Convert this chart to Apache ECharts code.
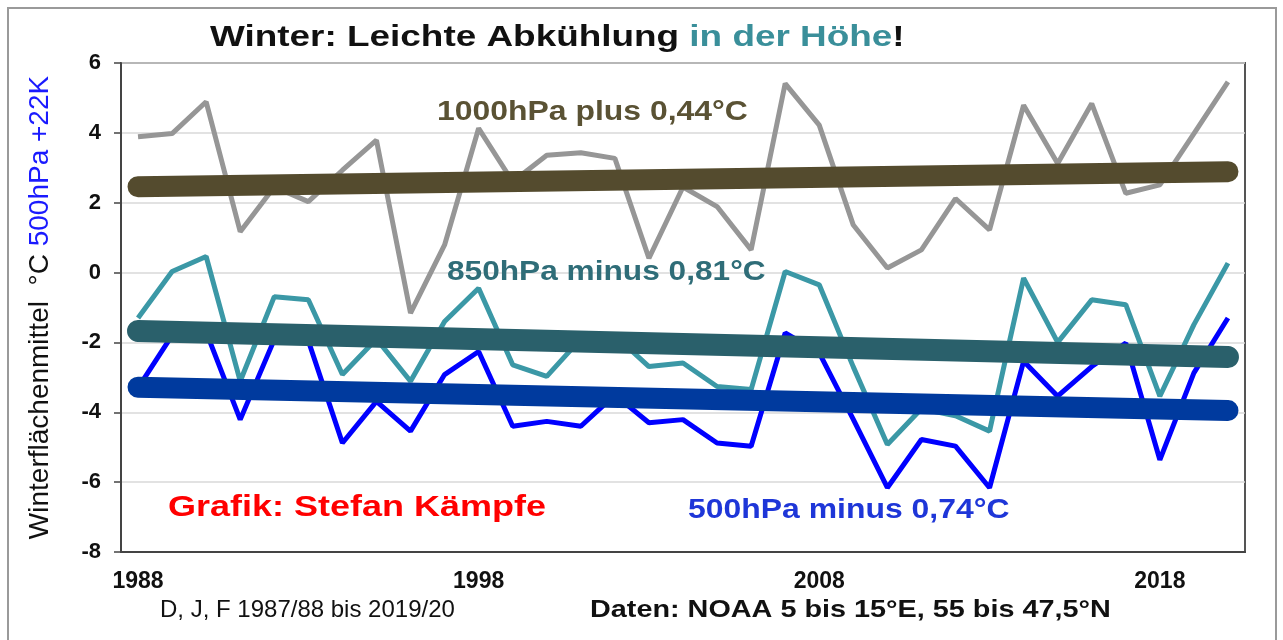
<!DOCTYPE html>
<html>
<head>
<meta charset="utf-8">
<script src="https://cdn.jsdelivr.net/npm/echarts@6/dist/echarts.min.js"></script>
<style>
html,body{margin:0;padding:0;background:#fff;}
#chart{width:1283px;height:640px;}
</style>
</head>
<body>
<div id="chart"></div>
<script>
var years = ['1988','1989','1990','1991','1992','1993','1994','1995','1996','1997','1998','1999','2000','2001','2002','2003','2004','2005','2006','2007','2008','2009','2010','2011','2012','2013','2014','2015','2016','2017','2018','2019','2020'];
var t1000 = [3.89, 3.98, 4.89, 1.17, 2.45, 2.03, 2.93, 3.79, -1.16, 0.79, 4.13, 2.6, 3.36, 3.43, 3.27, 0.41, 2.45, 1.89, 0.65, 5.41, 4.22, 1.36, 0.13, 0.65, 2.12, 1.22, 4.79, 3.12, 4.84, 2.27, 2.51, 3.98, 5.46];
var t850 = [-1.30, 0.03, 0.46, -3.11, -0.69, -0.78, -2.92, -1.9, -3.11, -1.40, -0.45, -2.64, -2.97, -1.9, -1.8, -2.69, -2.59, -3.26, -3.35, 0.03, -0.35, -2.7, -4.92, -3.9, -4.1, -4.54, -0.16, -2.0, -0.78, -0.92, -3.54, -1.49, 0.27];
var t500 = [-3.3, -1.8, -1.7, -4.21, -1.92, -1.95, -4.88, -3.69, -4.54, -2.92, -2.26, -4.40, -4.26, -4.40, -3.5, -4.30, -4.21, -4.88, -4.97, -1.73, -2.3, -4.2, -6.16, -4.78, -4.97, -6.16, -2.54, -3.54, -2.69, -2.02, -5.36, -2.87, -1.30];
var trend1000 = [2.46, 2.89];
var trend850 = [-1.67, -2.42];
var trend500 = [-3.28, -3.95];
var yTicks = [-8, -6, -4, -2, 0, 2, 4, 6];

function trendData(t){ return [[years[0], t[0]], [years[years.length-1], t[1]]]; }

var chart = echarts.init(document.getElementById('chart'));
var F = 'Liberation Sans, Arial, sans-serif';
var option = {
  backgroundColor: '#fff',
  animation: false,
  grid: {left: 121, right: 38, top: 63, bottom: 88, show: true, borderColor: '#555', borderWidth: 2, backgroundColor: 'transparent'},
  xAxis: {
    type: 'category', data: years, boundaryGap: true,
    axisLine: {onZero: false, lineStyle: {color: '#444', width: 2}},
    axisTick: {interval: 9, length: 6, lineStyle: {color: '#444', width: 1.5}},
    axisLabel: {interval: 9, margin: 18, fontFamily: F, fontWeight: 'bold', fontSize: 23, color: '#111'},
    splitLine: {show: false}
  },
  yAxis: {
    type: 'value', min: yTicks[0], max: yTicks[yTicks.length-1], interval: 2,
    name: '{a|Winterflächenmittel  °C }{b|500hPa +22K}',
    nameLocation: 'middle', nameRotate: 90, nameGap: 67,
    nameTextStyle: {rich: {
      a: {fontFamily: F, fontSize: 28, color: '#111'},
      b: {fontFamily: F, fontSize: 28, color: '#1a1aff'}
    }},
    axisLine: {show: true, lineStyle: {color: '#444', width: 2}},
    axisTick: {show: true, length: 7, lineStyle: {color: '#444', width: 1.5}},
    axisLabel: {margin: 20, fontFamily: F, fontWeight: 'bold', fontSize: 22, color: '#111'},
    splitLine: {lineStyle: {color: '#d9d9d9', width: 1.5}}
  },
  series: [
    {type: 'line', name: '1000hPa', data: t1000, symbol: 'none', lineStyle: {color: '#969696', width: 5}, z: 2},
    {type: 'line', name: '850hPa', data: t850, symbol: 'none', lineStyle: {color: '#3b98a6', width: 5}, z: 2},
    {type: 'line', name: '500hPa', data: t500, symbol: 'none', lineStyle: {color: '#0000ff', width: 5}, z: 3},
    {type: 'line', name: 'Trend 1000', data: trendData(trend1000), symbol: 'none', lineStyle: {color: '#544b2e', width: 21, cap: 'round'}, z: 4},
    {type: 'line', name: 'Trend 850', data: trendData(trend850), symbol: 'none', lineStyle: {color: '#2a606b', width: 22, cap: 'round'}, z: 4},
    {type: 'line', name: 'Trend 500', data: trendData(trend500), symbol: 'none', lineStyle: {color: '#003a9e', width: 21, cap: 'round'}, z: 4}
  ],
  graphic: [
    {type: 'rect', shape: {x: 8, y: 8, width: 1268, height: 640}, style: {fill: 'none', stroke: '#9a9a9a', lineWidth: 2}, z: 0, silent: true},
    {type: 'text', x: 210, y: 38, scaleX: 1.23, z: 10, style: {
      text: '{a|Winter: Leichte Abkühlung }{b|in der Höhe}{a|!}', verticalAlign: 'middle', align: 'left',
      rich: {
        a: {fontFamily: F, fontWeight: 'bold', fontSize: 30, fill: '#111'},
        b: {fontFamily: F, fontWeight: 'bold', fontSize: 30, fill: '#3a8f9a'}
      }}},
    {type: 'text', x: 437, y: 112, scaleX: 1.14, z: 10, style: {text: '1000hPa plus 0,44°C', font: 'bold 28px ' + F, fill: '#5a5234', verticalAlign: 'middle'}},
    {type: 'text', x: 447, y: 272, scaleX: 1.13, z: 10, style: {text: '850hPa minus 0,81°C', font: 'bold 28px ' + F, fill: '#2f6d78', verticalAlign: 'middle'}},
    {type: 'text', x: 688, y: 510, scaleX: 1.14, z: 10, style: {text: '500hPa minus 0,74°C', font: 'bold 28px ' + F, fill: '#1e36d8', verticalAlign: 'middle'}},
    {type: 'text', x: 168, y: 508, scaleX: 1.2, z: 10, style: {text: 'Grafik: Stefan Kämpfe', font: 'bold 30px ' + F, fill: '#ff0000', verticalAlign: 'middle'}},
    {type: 'text', x: 160, y: 610, z: 10, style: {text: 'D, J, F 1987/88 bis 2019/20', font: '24px ' + F, fill: '#111', verticalAlign: 'middle'}},
    {type: 'text', x: 590, y: 610, scaleX: 1.2, z: 10, style: {text: 'Daten: NOAA 5 bis 15°E, 55 bis 47,5°N', font: 'bold 24px ' + F, fill: '#111', verticalAlign: 'middle'}}
  ]
};
chart.setOption(option);
</script>
</body>
</html>
